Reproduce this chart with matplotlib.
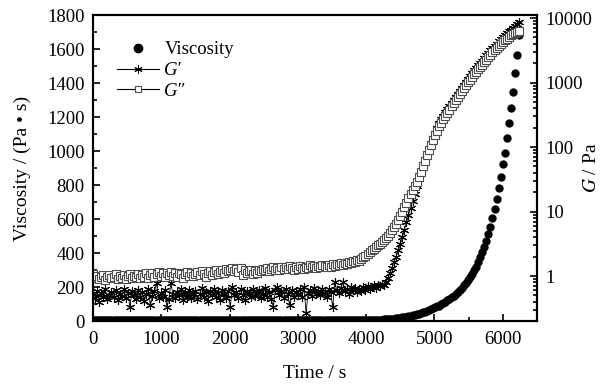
import numpy as np
import matplotlib
matplotlib.use("Agg")
import matplotlib.pyplot as plt
from matplotlib.ticker import MultipleLocator, LogLocator, FixedFormatter, NullFormatter
from matplotlib.lines import Line2D

plt.rcParams['font.family'] = ['Liberation Serif', 'DejaVu Serif']
plt.rcParams['mathtext.fontset'] = 'stix'

# rheometer samples every 30 s
time_s = np.arange(0, 6241, 30)

viscosity = [
    6, 5, 6, 5, 6, 5, 5, 6, 5, 6,
    5, 6, 5, 5, 6, 5, 6, 5, 5, 6,
    6, 5, 6, 5, 5, 6, 5, 6, 5, 5,
    6, 5, 5, 6, 5, 6, 5, 5, 6, 5,
    5, 6, 5, 6, 5, 5, 6, 5, 6, 5,
    6, 5, 6, 5, 6, 5, 5, 6, 5, 6,
    5, 6, 5, 6, 5, 6, 6, 5, 6, 5,
    6, 5, 6, 6, 5, 6, 5, 6, 6, 5,
    6, 6, 5, 6, 6, 5, 6, 6, 5, 6,
    6, 5, 6, 6, 6, 5, 6, 6, 6, 5,
    6, 6, 6, 5, 6, 6, 6, 6, 5, 6,
    6, 6, 6, 6, 5, 6, 6, 6, 6, 6,
    6, 6, 6, 6, 6, 7, 6, 7, 6, 7,
    7, 7, 7, 7, 7, 7, 8, 7, 8, 8,
    8, 9, 10, 11, 12, 13, 14, 15, 17, 19,
    21, 23, 25, 27, 29, 32, 35, 38, 41, 44,
    47, 51, 55, 60, 65, 70, 75, 81, 87, 92,
    98, 106, 114, 122, 131, 140, 150, 160, 171, 183,
    196, 210, 225, 241, 258, 277, 298, 321, 347, 375,
    405, 438, 473, 512, 555, 605, 660, 720, 782, 847,
    924, 988, 1076, 1165, 1253, 1347, 1458, 1565, 1682,
]

g_storage = [
    0.52, 0.45, 0.58, 0.40, 0.55, 0.48, 0.62, 0.44, 0.50, 0.57,
    0.47, 0.60, 0.42, 0.53, 0.49, 0.64, 0.45, 0.55, 0.33, 0.58,
    0.50, 0.44, 0.61, 0.48, 0.56, 0.41, 0.52, 0.63, 0.35, 0.49,
    0.58, 0.78, 0.46, 0.54, 0.48, 0.60, 0.33, 0.44, 0.78, 0.52,
    0.45, 0.57, 0.50, 0.62, 0.43, 0.55, 0.48, 0.60, 0.46, 0.53,
    0.58, 0.44, 0.52, 0.65, 0.47, 0.56, 0.41, 0.59, 0.50, 0.62,
    0.48, 0.55, 0.43, 0.60, 0.52, 0.46, 0.58, 0.33, 0.68, 0.50,
    0.56, 0.45, 0.62, 0.50, 0.42, 0.58, 0.53, 0.47, 0.64, 0.49,
    0.55, 0.60, 0.46, 0.52, 0.66, 0.48, 0.57, 0.44, 0.33, 0.61,
    0.68, 0.50, 0.58, 0.45, 0.62, 0.53, 0.35, 0.60, 0.48, 0.56,
    0.52, 0.63, 0.47, 0.68, 0.27, 0.55, 0.60, 0.49, 0.65, 0.53,
    0.58, 0.50, 0.64, 0.55, 0.47, 0.62, 0.56, 0.33, 0.80, 0.60,
    0.55, 0.66, 0.80, 0.58, 0.62, 0.52, 0.68, 0.60, 0.65, 0.57,
    0.63, 0.58, 0.67, 0.61, 0.70, 0.64, 0.68, 0.72, 0.66, 0.74,
    0.70, 0.76, 0.72, 0.82, 0.95, 1.10, 1.35, 1.65, 2.00, 2.50,
    3.1, 4.0, 5.2, 6.8, 8.8, 11.5, 14.8, 18.8, 25.0, 33.0,
    42, 52, 64, 79, 96, 116, 140, 167, 198, 232,
    268, 305, 344, 386, 432, 482, 537, 598, 665, 740,
    830, 930, 1035, 1150, 1270, 1400, 1540, 1690, 1850, 2010,
    2190, 2400, 2630, 2880, 3150, 3430, 3720, 4030, 4360, 4700,
    5050, 5420, 5800, 6200, 6620, 7060, 7520, 8100, 8800,
]

g_loss = [
    1.08, 0.95, 1.02, 0.90, 0.98, 1.05, 0.88, 0.97, 1.03, 0.92,
    0.98, 1.06, 0.90, 1.00, 0.94, 1.04, 0.89, 0.99, 1.07, 0.93,
    1.02, 0.96, 1.08, 0.94, 1.05, 0.98, 1.10, 0.95, 1.03, 1.12,
    0.97, 1.08, 1.14, 1.00, 1.10, 0.96, 1.12, 1.05, 1.15, 1.01,
    1.10, 0.98, 1.13, 1.06, 0.95, 1.09, 1.16, 1.02, 1.12, 0.99,
    1.08, 1.14, 1.03, 1.18, 1.07, 0.98, 1.12, 1.20, 1.05, 1.15,
    1.22, 1.08, 1.17, 1.26, 1.12, 1.30, 1.18, 1.24, 1.35, 1.20,
    1.28, 1.15, 1.32, 1.05, 1.22, 1.10, 1.18, 1.26, 1.08, 1.20,
    1.12, 1.25, 1.18, 1.30, 1.22, 1.35, 1.20, 1.28, 1.38, 1.24,
    1.32, 1.26, 1.40, 1.30, 1.36, 1.28, 1.42, 1.33, 1.25, 1.38,
    1.30, 1.44, 1.35, 1.28, 1.40, 1.33, 1.46, 1.36, 1.42, 1.34,
    1.45, 1.38, 1.50, 1.42, 1.36, 1.48, 1.40, 1.52, 1.45, 1.55,
    1.48, 1.58, 1.50, 1.62, 1.55, 1.66, 1.58, 1.70, 1.64, 1.75,
    1.72, 1.85, 1.95, 2.08, 2.20, 2.35, 2.50, 2.65, 2.80, 3.00,
    3.15, 3.35, 3.60, 3.90, 4.25, 4.70, 5.20, 5.80, 6.50, 7.30,
    8.5, 10.0, 11.8, 13.8, 16.0, 18.5, 21.5, 24.8, 28.5, 34.0,
    41, 50, 61, 74, 89, 107, 128, 152, 180, 210,
    240, 272, 305, 342, 382, 426, 474, 528, 588, 655,
    735, 820, 910, 1005, 1105, 1215, 1335, 1465, 1600, 1740,
    1900, 2080, 2270, 2480, 2700, 2930, 3170, 3420, 3680, 3950,
    4230, 4520, 4810, 5100, 5380, 5650, 5910, 6160, 6400,
]

fig = plt.figure(figsize=(6.08, 3.86), dpi=100)
ax = fig.add_axes([0.153, 0.168, 0.730, 0.793])
ax2 = ax.twinx()

asterisk = (6, 2, 0)

ax.plot(time_s, viscosity, 'o', color='black', markersize=5, zorder=3)
ax2.plot(time_s, g_storage, '-', color='black', lw=0.6,
         marker=asterisk, markersize=6.5, mew=0.8, mec='black')
ax2.plot(time_s, g_loss, '-', color='black', lw=0.6,
         marker='s', markersize=6, mfc='white', mec='0.3', mew=0.8)

ax.set_xlim(0, 6500)
ax.set_ylim(0, 1800)
ax2.set_yscale('log')
ax2.set_ylim(0.2, 11130)

fs = 13.5
ax.xaxis.set_major_locator(MultipleLocator(1000))
ax.xaxis.set_minor_locator(MultipleLocator(500))
ax.yaxis.set_major_locator(MultipleLocator(200))
ax.yaxis.set_minor_locator(MultipleLocator(100))
ax2.yaxis.set_minor_locator(LogLocator(base=10, subs=np.arange(2, 10), numticks=20))
ax2.yaxis.set_minor_formatter(NullFormatter())
ax2.set_yticks([1, 10, 100, 1000, 10000])
ax2.yaxis.set_major_formatter(FixedFormatter(['1', '10', '100', '1000', '10000']))

ax.tick_params(axis='both', which='both', direction='in', labelsize=fs,
               top=False, right=False, width=1.2)
ax.tick_params(axis='both', which='major', length=5)
ax.tick_params(axis='both', which='minor', length=3)
ax.tick_params(axis='x', pad=7)
ax.tick_params(axis='y', pad=6)
ax2.tick_params(axis='y', which='both', direction='in', labelsize=fs, width=1.2, pad=6)
ax2.tick_params(axis='y', which='major', length=5)
ax2.tick_params(axis='y', which='minor', length=3)

for a in (ax, ax2):
    for s in a.spines.values():
        s.set_linewidth(1.5)

ax.set_xlabel('Time / s', fontsize=fs + 0.5, labelpad=12)
ax.set_ylabel('Viscosity / (Pa • s)', fontsize=fs + 0.5, labelpad=12)
ax2.set_ylabel('$G$ / Pa', fontsize=fs + 0.5, rotation=90)
ax2.yaxis.set_label_coords(1.105, 0.5)

handles = [
    Line2D([], [], ls='none', marker='o', color='black', markersize=6),
    Line2D([], [], ls='-', color='black', lw=0.8, marker=asterisk,
           markersize=6, mew=0.7),
    Line2D([], [], ls='-', color='black', lw=0.8, marker='s', markersize=5,
           mfc='white', mec='0.3', mew=0.8),
]
leg = ax2.legend(handles, ['Viscosity', 'G\u2032', 'G\u2033'], loc='upper left',
                 bbox_to_anchor=(0.055, 0.915), frameon=False, fontsize=fs,
                 handlelength=2.2, handletextpad=0.3, labelspacing=0.2,
                 borderpad=0, borderaxespad=0)
for t in leg.get_texts()[1:]:
    t.set_fontstyle('italic')

fig.savefig('out.png', dpi=100)
